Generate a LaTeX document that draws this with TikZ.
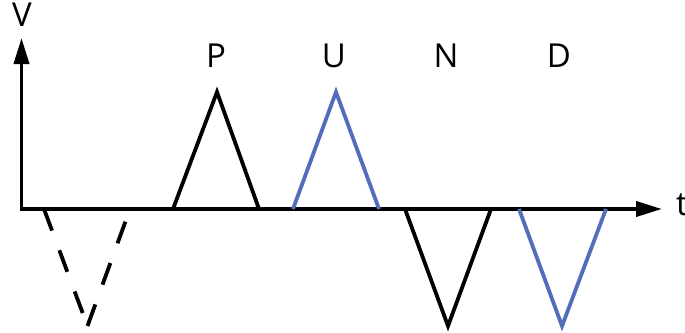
\documentclass[tikz,border=0pt]{standalone}
\usepackage{fontspec}
\setmainfont{Open Sans}
\usetikzlibrary{arrows.meta}
\definecolor{pblue}{RGB}{80,110,185}
\begin{document}
\begin{tikzpicture}[x=1pt,y=-1pt,
  wave/.style={line width=3.8pt},
  lbl/.style={inner sep=0pt,anchor=base,font=\fontsize{33}{36}\selectfont}]
\useasboundingbox (0,0) rectangle (685,332);
% axes
\draw[line width=3.8pt,arrows={Triangle[length=26pt,width=15pt]-Triangle[length=26pt,width=15pt]}]
  (21.5,38) -- (21.5,209) -- (662,209);
\node[lbl] (V) at (22,27) {V};
\node[lbl,anchor=base west] (t) at (676,215) {t};
% dashed triangle
\draw[wave,dash pattern=on 23pt off 21pt] (44,209) -- (87.5,326);
\draw[wave,dash pattern=on 23pt off 21pt] (87.5,326) -- (130,209);
% P
\draw[wave] (173,209) -- (217,92) -- (259,209);
% U
\draw[wave,pblue] (293,209) -- (336,92) -- (379,209);
% N
\draw[wave] (405,209) -- (448,326) -- (491,209);
% D
\draw[wave,pblue] (519,209) -- (562,326) -- (606,209);
% labels
\node[lbl] (P) at (216,67) {P};
\node[lbl] (U) at (334,67) {U};
\node[lbl] (N) at (446,67) {N};
\node[lbl] (D) at (559,67) {D};
\end{tikzpicture}
\end{document}
